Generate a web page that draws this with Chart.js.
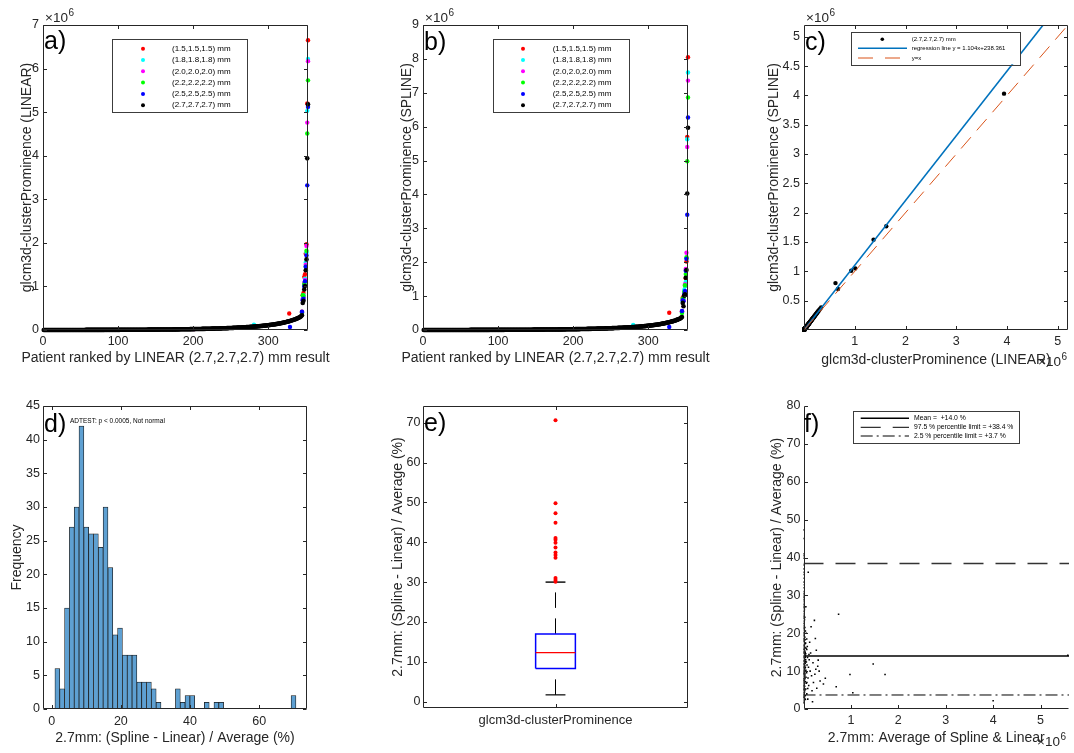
<!DOCTYPE html>
<html><head><meta charset="utf-8">
<script src="https://cdn.jsdelivr.net/npm/chart.js@4.4.1/dist/chart.umd.min.js"></script>
<style>
html,body{margin:0;padding:0;background:#fff;}
#wrap{position:relative;width:1074px;height:753px;overflow:hidden;background:#fff;}
#wrap canvas{position:absolute;left:0;top:0;}
</style></head>
<body><div id="wrap">
<canvas id="pa" width="1074" height="753"></canvas>
<canvas id="pb" width="1074" height="753"></canvas>
<canvas id="pc" width="1074" height="753"></canvas>
<canvas id="pd" width="1074" height="753"></canvas>
<canvas id="pe" width="1074" height="753"></canvas>
<canvas id="pf" width="1074" height="753"></canvas>
</div>
<script>
// ================= DATA (values in units of 10^6 where the axis shows x10^6) =================
const rankTicks = [0, 100, 200, 300];
const linearYTicks = [0, 1, 2, 3, 4, 5, 6, 7];
const splineYTicks = [0, 1, 2, 3, 4, 5, 6, 7, 8, 9];
const cXTicks = [1, 2, 3, 4, 5];
const cYTicks = [0.5, 1, 1.5, 2, 2.5, 3, 3.5, 4, 4.5, 5];
const histXTicks = [0, 20, 40, 60];
const histYTicks = [0, 5, 10, 15, 20, 25, 30, 35, 40, 45];
const boxYTicks = [0, 10, 20, 30, 40, 50, 60, 70];
const fXTicks = [1, 2, 3, 4, 5];
const fYTicks = [0, 10, 20, 30, 40, 50, 60, 70, 80];

const seriesLabels = ['(1.5,1.5,1.5) mm', '(1.8,1.8,1.8) mm', '(2.0,2.0,2.0) mm', '(2.2,2.2,2.2) mm', '(2.5,2.5,2.5) mm', '(2.7,2.7,2.7) mm'];
const seriesColors = ['#ff0000', '#00ffff', '#ff00ff', '#00ff00', '#0000ff', '#000000'];
const rankTitle = 'Patient ranked by LINEAR (2.7,2.7,2.7) mm result';

// LINEAR 2.7 mm, ranked (patient rank = index + 1)
const linear27 = [
0.0001,0.0002,0.0002,0.0003,0.0003,0.0003,0.0004,0.0004,0.0004,0.0005,
0.0005,0.0005,0.0005,0.0006,0.0006,0.0006,0.0006,0.0007,0.0007,0.0007,
0.0007,0.0008,0.0008,0.0008,0.0008,0.0009,0.0009,0.0009,0.0009,0.0010,
0.0010,0.0010,0.0010,0.0011,0.0011,0.0011,0.0011,0.0012,0.0012,0.0012,
0.0012,0.0013,0.0013,0.0013,0.0014,0.0014,0.0014,0.0015,0.0015,0.0015,
0.0016,0.0016,0.0016,0.0017,0.0017,0.0017,0.0018,0.0018,0.0018,0.0019,
0.0019,0.0020,0.0020,0.0020,0.0021,0.0021,0.0022,0.0022,0.0022,0.0023,
0.0023,0.0024,0.0024,0.0025,0.0025,0.0026,0.0026,0.0027,0.0027,0.0028,
0.0028,0.0029,0.0029,0.0030,0.0030,0.0031,0.0031,0.0032,0.0032,0.0033,
0.0033,0.0034,0.0035,0.0035,0.0036,0.0036,0.0037,0.0038,0.0038,0.0039,
0.0040,0.0040,0.0041,0.0042,0.0042,0.0043,0.0044,0.0045,0.0045,0.0046,
0.0047,0.0048,0.0048,0.0049,0.0050,0.0051,0.0052,0.0052,0.0053,0.0054,
0.0055,0.0056,0.0057,0.0058,0.0059,0.0060,0.0061,0.0062,0.0063,0.0064,
0.0065,0.0066,0.0067,0.0068,0.0069,0.0070,0.0072,0.0073,0.0074,0.0075,
0.0077,0.0078,0.0079,0.0081,0.0082,0.0083,0.0085,0.0086,0.0088,0.0089,
0.0091,0.0092,0.0094,0.0095,0.0097,0.0099,0.0100,0.0102,0.0104,0.0106,
0.0107,0.0109,0.0111,0.0113,0.0115,0.0117,0.0119,0.0121,0.0123,0.0125,
0.0127,0.0129,0.0131,0.0134,0.0136,0.0138,0.0140,0.0143,0.0145,0.0148,
0.0150,0.0153,0.0155,0.0158,0.0160,0.0163,0.0166,0.0168,0.0171,0.0174,
0.0177,0.0180,0.0183,0.0186,0.0189,0.0192,0.0195,0.0198,0.0202,0.0205,
0.0208,0.0212,0.0215,0.0219,0.0222,0.0226,0.0229,0.0233,0.0237,0.0241,
0.0245,0.0249,0.0253,0.0257,0.0261,0.0265,0.0270,0.0274,0.0279,0.0283,
0.0288,0.0292,0.0297,0.0302,0.0307,0.0312,0.0317,0.0322,0.0327,0.0333,
0.0338,0.0344,0.0349,0.0355,0.0361,0.0367,0.0373,0.0379,0.0385,0.0391,
0.0398,0.0404,0.0411,0.0418,0.0425,0.0432,0.0439,0.0446,0.0453,0.0461,
0.0468,0.0476,0.0484,0.0492,0.0500,0.0508,0.0517,0.0525,0.0534,0.0543,
0.0552,0.0561,0.0570,0.0580,0.0590,0.0600,0.0610,0.0620,0.0631,0.0641,
0.0652,0.0663,0.0675,0.0686,0.0698,0.0710,0.0722,0.0735,0.0748,0.0761,
0.0774,0.0788,0.0802,0.0816,0.0830,0.0845,0.0860,0.0876,0.0892,0.0908,
0.0925,0.0942,0.0960,0.0978,0.0997,0.1016,0.1036,0.1056,0.1077,0.1098,
0.1120,0.1142,0.1165,0.1189,0.1213,0.1238,0.1264,0.1290,0.1317,0.1345,
0.1374,0.1404,0.1434,0.1466,0.1498,0.1531,0.1566,0.1601,0.1638,0.1675,
0.1714,0.1754,0.1795,0.1837,0.1881,0.1926,0.1973,0.2021,0.2071,0.2122,
0.2175,0.2230,0.2287,0.2346,0.2408,0.2472,0.2539,0.2609,0.2683,0.2760,
0.2842,0.2930,0.3050,0.3200,0.3380,0.6200,0.6700,0.9300,1.0100,1.3700,
1.6200,3.9400,5.1800];

// SPLINE 2.7 mm, same patient order
const spline27 = [
0.0001,0.0002,0.0003,0.0003,0.0004,0.0003,0.0005,0.0004,0.0005,0.0006,
0.0006,0.0005,0.0006,0.0007,0.0007,0.0007,0.0006,0.0008,0.0008,0.0008,
0.0008,0.0009,0.0009,0.0010,0.0009,0.0010,0.0010,0.0011,0.0010,0.0011,
0.0012,0.0011,0.0012,0.0013,0.0012,0.0013,0.0012,0.0014,0.0013,0.0014,
0.0014,0.0015,0.0014,0.0015,0.0016,0.0016,0.0015,0.0017,0.0017,0.0016,
0.0018,0.0018,0.0019,0.0019,0.0019,0.0020,0.0020,0.0021,0.0020,0.0022,
0.0022,0.0022,0.0023,0.0023,0.0024,0.0024,0.0025,0.0025,0.0026,0.0026,
0.0027,0.0027,0.0028,0.0028,0.0029,0.0029,0.0030,0.0031,0.0031,0.0032,
0.0032,0.0033,0.0033,0.0034,0.0035,0.0035,0.0036,0.0036,0.0037,0.0038,
0.0038,0.0039,0.0040,0.0040,0.0041,0.0042,0.0042,0.0043,0.0044,0.0045,
0.0045,0.0046,0.0047,0.0048,0.0048,0.0049,0.0050,0.0051,0.0052,0.0053,
0.0054,0.0055,0.0055,0.0056,0.0057,0.0058,0.0059,0.0060,0.0061,0.0062,
0.0063,0.0064,0.0065,0.0066,0.0067,0.0069,0.0070,0.0071,0.0072,0.0073,
0.0074,0.0075,0.0077,0.0078,0.0079,0.0080,0.0082,0.0083,0.0085,0.0086,
0.0088,0.0089,0.0090,0.0092,0.0094,0.0095,0.0097,0.0098,0.0100,0.0102,
0.0104,0.0105,0.0107,0.0109,0.0111,0.0113,0.0114,0.0116,0.0119,0.0121,
0.0122,0.0124,0.0127,0.0129,0.0131,0.0133,0.0136,0.0138,0.0140,0.0143,
0.0145,0.0147,0.0150,0.0153,0.0155,0.0157,0.0160,0.0163,0.0165,0.0169,
0.0171,0.0174,0.0177,0.0180,0.0182,0.0186,0.0189,0.0192,0.0195,0.0198,
0.0202,0.0205,0.0209,0.0212,0.0215,0.0219,0.0222,0.0226,0.0230,0.0234,
0.0237,0.0242,0.0245,0.0250,0.0253,0.0258,0.0261,0.0266,0.0270,0.0275,
0.0279,0.0284,0.0288,0.0293,0.0298,0.0302,0.0308,0.0312,0.0318,0.0323,
0.0328,0.0333,0.0339,0.0344,0.0350,0.0356,0.0361,0.0367,0.0373,0.0380,
0.0385,0.0392,0.0398,0.0405,0.0412,0.0418,0.0425,0.0432,0.0439,0.0446,
0.0454,0.0461,0.0469,0.0477,0.0485,0.0492,0.0500,0.0508,0.0516,0.0526,
0.0534,0.0543,0.0552,0.0561,0.0570,0.0579,0.0589,0.0599,0.0609,0.0619,
0.0629,0.0640,0.0650,0.0661,0.0673,0.0684,0.0695,0.0707,0.0719,0.0731,
0.0743,0.0756,0.0770,0.0782,0.0796,0.0809,0.0823,0.0838,0.0853,0.0868,
0.0882,0.0898,0.0914,0.0930,0.0946,0.0963,0.0980,0.0999,0.1017,0.1035,
0.1055,0.1074,0.1094,0.1115,0.1137,0.1158,0.1181,0.1204,0.1228,0.1252,
0.1277,0.1302,0.1328,0.1355,0.1383,0.1411,0.1441,0.1471,0.1501,0.1533,
0.1566,0.1601,0.1635,0.1671,0.1708,0.1745,0.1785,0.1825,0.1867,0.1910,
0.1954,0.2000,0.2046,0.2094,0.2144,0.2196,0.2249,0.2304,0.2361,0.2419,
0.2480,0.2542,0.2607,0.2674,0.2745,0.2818,0.2894,0.2974,0.3059,0.3146,
0.3240,0.3340,0.3477,0.3648,0.3853,0.8000,0.7000,1.0100,1.0500,1.5400,
1.7700,4.0300,5.9700];

// other voxel sizes, where they are visible beside the 2.7 mm series (panel a, LINEAR)
const lin15Ranks = [328, 345, 346, 347, 348, 349, 350, 351, 352, 353];
const lin15 = [0.38, 0.42, 0.80, 0.85, 1.22, 1.28, 1.75, 1.97, 5.20, 6.65];
const lin18Ranks = [281, 345, 346, 347, 348, 349, 350, 351, 352, 353];
const lin18 = [0.12, 0.40, 0.72, 0.80, 1.05, 1.18, 1.55, 1.78, 5.03, 6.22];
const lin20Ranks = [201, 345, 346, 347, 348, 349, 350, 351, 352, 353];
const lin20 = [0.02, 0.40, 0.70, 0.75, 1.08, 1.15, 1.50, 1.93, 4.76, 6.17];
const lin22Ranks = [345, 346, 347, 348, 349, 350, 351, 352, 353];
const lin22 = [0.39, 0.80, 0.78, 1.05, 1.10, 1.45, 1.82, 4.51, 5.73];
const lin25Ranks = [329, 345, 346, 347, 348, 349, 350, 351, 352, 353];
const lin25 = [0.07, 0.42, 0.68, 0.72, 1.00, 1.12, 1.45, 1.71, 3.32, 5.12];
// panel b, SPLINE
const spl15Ranks = [328, 345, 346, 347, 348, 349, 350, 351, 352, 353];
const spl15 = [0.51, 0.55, 0.95, 0.98, 1.03, 1.30, 1.53, 2.02, 5.70, 8.05];
const spl18Ranks = [280, 345, 346, 347, 348, 349, 350, 351, 352, 353];
const spl18 = [0.15, 0.52, 0.85, 0.90, 1.18, 1.30, 1.42, 2.12, 5.63, 7.60];
const spl20Ranks = [345, 346, 347, 348, 349, 350, 351, 352, 353];
const spl20 = [0.55, 0.90, 0.88, 1.10, 1.35, 1.80, 2.28, 5.40, 7.36];
const spl22Ranks = [345, 346, 347, 348, 349, 350, 351, 352, 353];
const spl22 = [0.50, 0.92, 0.95, 1.12, 1.32, 1.65, 2.15, 4.98, 6.86];
const spl25Ranks = [328, 345, 346, 347, 348, 349, 350, 351, 352, 353];
const spl25 = [0.09, 0.56, 0.88, 0.85, 1.05, 1.15, 1.75, 2.10, 3.40, 6.27];

// panel c regression (raw units)
const regSlope = 1.104;
const regIntercept = 238.361;

// panel d histogram
const histCounts = [6,3,15,27,30,42,27,26,26,24, 30,21,11,12,8,8,8,4,4,4, 3,1,0,0,0,3,1,2,2,0, 0,1,0,1,1,0,0,0,0,0, 0,0,0,0,0,0,0,0,0,2];
const histBinStart = 0.95;
const histBinWidth = 1.393;
const adTestText = 'ADTEST: p < 0.0005, Not normal';

// panel e boxplot
const boxCategory = 'glcm3d-clusterProminence';
const boxQ1 = 8.3, boxMedian = 12.3, boxQ3 = 17.0, whiskerLow = 1.7, whiskerHigh = 30.0;
const boxOutliers = [70.6, 49.8, 47.3, 44.9, 41.1, 40.6, 39.9, 38.7, 37.4, 36.8, 36.1, 31.0, 30.5, 30.1];

// panel f Bland-Altman
const baMean = 14.0, baUpper = 38.4, baLower = 3.7;
const baAvg = [
0.001,0.002,0.003,0.004,0.005,0.006,0.007,0.008,0.009,0.010,
0.011,0.012,0.013,0.002,0.004,0.006,0.008,0.003,0.005,0.007,
0.009,0.012,0.014,0.016,0.018,0.020,0.022,0.003,0.006,0.009,
0.012,0.015,0.018,0.021,0.004,0.008,0.012,0.016,0.020,0.005,
0.010,0.015,0.020,0.006,0.012,0.018,0.007,0.014,0.004,0.010,
0.003,0.008,0.002,0.006,0.003,0.001,0.002,0.001,0.002,0.001,
0.001,0.025,0.030,0.028,0.035,0.026,0.032,0.024,0.030,0.040,
0.022,0.018,0.015,0.030,0.020,0.045,0.050,0.040,0.036,0.028,
0.012,0.10,0.16,0.25,0.23,0.31,0.30,0.46,0.26,0.28,
0.19,0.74,1.47,0.98,1.72,0.69,1.04,4.00,0.06,0.08,
0.12,0.14,0.17,0.21,0.11,0.07,0.09,0.15,0.20,0.24,
0.13,0.35,0.27,0.05,0.04,0.18,0.33,0.42,5.575,
0.004,0.011,0.017,0.003,0.019,0.025,0.001,0.015,0.021,0.013,
0.026,0.002,0.031,0.008,0.024,0.004,0.010,0.033,0.013,0.027,
0.001,0.019,0.007,0.025,0.011,0.002,0.023,0.010,0.004,0.017,
0.008,0.003,0.013,0.002,0.009,0.004,0.011,0.003,0.007,0.002,
0.005,0.003,0.001,0.004,0.009,0.016,0.002,0.014,0.006,0.029,
0.018,0.036,0.042,0.038,0.047,0.055,0.044,0.060,0.065,0.052,
0.058,0.048,0.035,0.027,0.010,0.034,0.040,0.028,0.020,0.015,
0.012,0.070,0.075,0.085,0.095,0.072,0.105,0.115,0.068,0.090];
const baPct = [
1.6,2.4,3.1,3.8,4.4,5.0,5.5,6.1,6.6,7.0,
7.4,7.9,8.3,8.7,9.1,9.5,9.9,10.3,10.8,11.2,
11.6,12.0,12.5,12.9,13.4,13.8,14.3,14.7,15.1,15.6,
16.0,16.5,17.0,17.5,18.0,18.6,19.2,19.8,20.5,21.2,
22.0,22.8,23.6,24.4,25.3,26.2,27.1,28.0,29.0,30.1,
30.5,31.0,33.5,36.1,37.0,38.0,39.8,40.5,41.0,45.0,
47.3,6.0,8.0,10.0,12.0,14.5,16.2,19.0,9.0,11.0,
4.5,3.0,2.0,5.0,7.5,13.0,10.2,7.2,15.0,21.5,
1.8,36.1,21.7,18.6,23.4,12.9,11.3,8.1,10.5,5.5,
1.9,25.0,11.9,9.1,9.1,5.9,4.3,2.2,20.0,16.5,
13.0,10.0,8.8,7.0,6.2,4.0,2.6,14.8,12.2,9.2,
17.6,7.4,15.5,27.0,2.5,4.8,10.0,6.6,14.2,
5.2,6.3,6.8,7.6,8.1,8.6,9.3,9.7,10.6,11.0,
11.4,11.9,12.3,12.7,13.1,13.6,14.0,14.1,14.9,15.3,
15.8,16.3,16.8,17.2,17.8,18.4,18.9,19.5,20.1,20.8,
21.6,22.5,23.2,24.0,24.8,25.8,26.7,27.6,28.5,29.5,
32.0,34.5,35.5,3.4,4.1,4.9,5.8,7.2,8.0,9.4,
10.1,10.9,12.6,13.7,14.6,16.0,17.4,12.4,9.6,8.4,
6.8,5.3,3.5,2.7,2.9,18.3,20.6,24.2,26.8,29.7,
32.8,15.7,11.6,13.6,8.2,7.0,11.0,14.4,18.5,5.4];

// ================= RENDERING =================
const W = 1074, H = 753;
const AX = '#262626';
const FONT = "'Liberation Sans', Arial, Helvetica, sans-serif";
const TICKF = { family: FONT, size: 12.5 };
const TITLEF = { family: FONT, size: 14 };
Chart.defaults.font.family = FONT;
Chart.defaults.color = AX;
Chart.defaults.animation = false;
Chart.defaults.events = [];

function axis(s, size) {
  return {
    type: 'linear', min: s.min, max: s.max, offset: false,
    grid: { display: false, drawTicks: false }, border: { display: false },
    afterBuildTicks: sc => { sc.ticks = s.ticks.map(v => ({ value: v })); },
    afterFit: sc => { if (sc.isHorizontal()) sc.height = size; else sc.width = size; },
    ticks: { color: AX, font: s.font || TICKF, padding: s.pad != null ? s.pad : 4, autoSkip: false,
             maxRotation: 0, minRotation: 0, callback: s.fmt || (v => String(v)) },
    title: s.title ? { display: true, text: s.title, color: AX, font: TITLEF, padding: { top: 4, bottom: 4 } } : { display: false }
  };
}

function framePlugin(box, tl) {
  return {
    id: 'frame',
    afterDatasetsDraw(chart) {
      const { ctx, chartArea: a } = chart;
      const xs = chart.scales.x, ys = chart.scales.y;
      const L = Math.round(a.left) + 0.5, R = Math.round(a.right) - 0.5;
      const T = Math.round(a.top) + 0.5, B = Math.round(a.bottom) - 0.5;
      ctx.save();
      ctx.strokeStyle = AX; ctx.lineWidth = 1;
      ctx.beginPath();
      if (box) { ctx.rect(L, T, R - L, B - T); }
      else { ctx.moveTo(L, T); ctx.lineTo(L, B); ctx.lineTo(R, B); }
      xs.ticks.forEach(t => {
        const p = Math.round(xs.getPixelForValue(t.value)) + 0.5;
        ctx.moveTo(p, B); ctx.lineTo(p, B - tl);
        if (box) { ctx.moveTo(p, T); ctx.lineTo(p, T + tl); }
      });
      ys.ticks.forEach(t => {
        const p = Math.round(ys.getPixelForValue(t.value)) + 0.5;
        ctx.moveTo(L, p); ctx.lineTo(L + tl, p);
        if (box) { ctx.moveTo(R, p); ctx.lineTo(R - tl, p); }
      });
      ctx.stroke();
      ctx.restore();
    }
  };
}

function letter(ctx, txt, x, y) {
  ctx.save(); ctx.font = '25px ' + FONT; ctx.fillStyle = '#000'; ctx.textBaseline = 'alphabetic'; ctx.textAlign = 'left';
  ctx.fillText(txt, x, y); ctx.restore();
}
function centeredTitle(ctx, txt, x, y) {
  ctx.save(); ctx.font = '14px ' + FONT; ctx.fillStyle = AX; ctx.textBaseline = 'middle'; ctx.textAlign = 'center';
  ctx.fillText(txt, x, y); ctx.restore();
}
function expo(ctx, x, y) {
  ctx.save(); ctx.fillStyle = AX; ctx.textBaseline = 'alphabetic'; ctx.textAlign = 'left';
  ctx.font = '13.5px ' + FONT; ctx.fillText('\u00d710', x, y);
  const w = ctx.measureText('\u00d710').width;
  ctx.font = '10px ' + FONT; ctx.fillText('6', x + w + 0.5, y - 6);
  ctx.restore();
}
function legendBox(ctx, l, t, r, b) {
  ctx.fillStyle = '#fff'; ctx.fillRect(l, t, r - l, b - t);
  ctx.strokeStyle = '#3c3c3c'; ctx.lineWidth = 1;
  ctx.strokeRect(Math.round(l) + 0.5, Math.round(t) + 0.5, Math.round(r - l), Math.round(b - t));
}
function markerLegend(ctx, l, t, r, b, mx, tx, y0, step) {
  ctx.save(); legendBox(ctx, l, t, r, b);
  ctx.font = '8px ' + FONT; ctx.textBaseline = 'middle'; ctx.textAlign = 'left';
  seriesLabels.forEach((lab, i) => {
    const y = y0 + i * step;
    ctx.fillStyle = seriesColors[i]; ctx.beginPath(); ctx.arc(mx, y, 2, 0, Math.PI * 2); ctx.fill();
    ctx.fillStyle = '#000'; ctx.fillText(lab, tx, y);
  });
  ctx.restore();
}
function sampleLine(ctx, x0, x1, y, color, width, dash) {
  ctx.save(); ctx.strokeStyle = color; ctx.lineWidth = width; ctx.setLineDash(dash || []);
  ctx.beginPath(); ctx.moveTo(x0, y); ctx.lineTo(x1, y); ctx.stroke(); ctx.restore();
}

function build(id, c) {
  return new Chart(document.getElementById(id), {
    type: c.type || 'scatter',
    data: { datasets: c.datasets },
    options: {
      responsive: false, maintainAspectRatio: false, devicePixelRatio: 1,
      layout: { padding: { left: c.area.l - c.yW, top: c.area.t, right: W - c.area.r, bottom: H - c.area.b - c.xH } },
      scales: { x: axis(c.x, c.xH), y: axis(c.y, c.yW) },
      plugins: { legend: { display: false }, tooltip: { enabled: false } }
    },
    plugins: [framePlugin(c.box, 3.5), { id: 'decor', afterDraw: ch => c.decor(ch.ctx, ch) }]
  });
}

function dots(pts, color, r, order) {
  return { data: pts, backgroundColor: color, borderColor: color, borderWidth: 0, pointRadius: r, pointStyle: 'circle', order: order, clip: false };
}
function line(pts, color, width, dash, order) {
  return { data: pts, showLine: true, borderColor: color, backgroundColor: color, borderWidth: width, borderDash: dash || [], pointRadius: 0, fill: false, tension: 0, order: order || 0 };
}
const rankPts = (ranks, vals) => vals.map((v, i) => ({ x: ranks[i], y: v }));
const fullPts = vals => vals.map((v, i) => ({ x: i + 1, y: v }));

// ---------- a) ----------
build('pa', {
  area: { l: 43, t: 25, r: 308, b: 330 }, yW: 28.4, xH: 40.4, box: true,
  x: { min: 0, max: 353, ticks: rankTicks },
  y: { min: 0, max: 7, ticks: linearYTicks, title: 'glcm3d-clusterProminence (LINEAR)' },
  datasets: [
    dots(rankPts(lin15Ranks, lin15), seriesColors[0], 2.2, 5),
    dots(rankPts(lin18Ranks, lin18), seriesColors[1], 2.2, 4),
    dots(rankPts(lin20Ranks, lin20), seriesColors[2], 2.2, 3),
    dots(rankPts(lin22Ranks, lin22), seriesColors[3], 2.2, 2),
    dots(rankPts(lin25Ranks, lin25), seriesColors[4], 2.2, 1),
    dots(fullPts(linear27), seriesColors[5], 2.3, 0)
  ],
  decor: (ctx) => { letter(ctx, 'a)', 44, 49); expo(ctx, 45, 22); centeredTitle(ctx, rankTitle, 175.5, 358);
    markerLegend(ctx, 111.7, 39.3, 246.7, 112.7, 143, 172, 48.7, 11.3); }
});

// ---------- b) ----------
build('pb', {
  area: { l: 423, t: 25, r: 688, b: 330 }, yW: 28.7, xH: 40.4, box: true,
  x: { min: 0, max: 353, ticks: rankTicks },
  y: { min: 0, max: 9, ticks: splineYTicks, title: 'glcm3d-clusterProminence (SPLINE)' },
  datasets: [
    dots(rankPts(spl15Ranks, spl15), seriesColors[0], 2.2, 5),
    dots(rankPts(spl18Ranks, spl18), seriesColors[1], 2.2, 4),
    dots(rankPts(spl20Ranks, spl20), seriesColors[2], 2.2, 3),
    dots(rankPts(spl22Ranks, spl22), seriesColors[3], 2.2, 2),
    dots(rankPts(spl25Ranks, spl25), seriesColors[4], 2.2, 1),
    dots(fullPts(spline27), seriesColors[5], 2.3, 0)
  ],
  decor: (ctx) => { letter(ctx, 'b)', 424, 49.5); expo(ctx, 425, 22); centeredTitle(ctx, rankTitle, 555.5, 358);
    markerLegend(ctx, 492.7, 39.3, 629, 112.7, 523, 552.7, 48.7, 11.3); }
});

// ---------- c) ----------
const cMax = 5.2;
const regLabel = 'regression line y = ' + regSlope + 'x+' + regIntercept;
build('pc', {
  area: { l: 804, t: 25, r: 1068, b: 330 }, yW: 42.4, xH: 42.4, box: true,
  x: { min: 0, max: cMax, ticks: cXTicks, title: 'glcm3d-clusterProminence (LINEAR)' },
  y: { min: 0, max: cMax, ticks: cYTicks, title: 'glcm3d-clusterProminence (SPLINE)' },
  datasets: [
    Object.assign(dots(linear27.map((v, i) => ({ x: v, y: spline27[i] })), '#000', 2.2, 2), { clip: 2 }),
    line([{ x: 0, y: regIntercept / 1e6 }, { x: cMax, y: regSlope * cMax + regIntercept / 1e6 }], 'rgb(0,114,189)', 1.6, [], 1),
    line([{ x: 0, y: 0 }, { x: cMax, y: cMax }], 'rgb(217,83,25)', 1, [15, 9], 0)
  ],
  decor: (ctx) => {
    letter(ctx, 'c)', 805, 50); expo(ctx, 806, 22); expo(ctx, 1038, 366);
    ctx.save(); legendBox(ctx, 851.3, 31.7, 1020.7, 64.3);
    ctx.fillStyle = '#000'; ctx.beginPath(); ctx.arc(882.3, 39.3, 1.8, 0, Math.PI * 2); ctx.fill();
    sampleLine(ctx, 858, 907, 48.3, 'rgb(0,114,189)', 1.5);
    sampleLine(ctx, 858, 907, 58, 'rgb(217,83,25)', 1, [15, 12]);
    ctx.font = '6px ' + FONT; ctx.fillStyle = '#000'; ctx.textBaseline = 'middle'; ctx.textAlign = 'left';
    ctx.fillText(seriesLabels[5], 911.7, 39.3); ctx.fillText(regLabel, 911.7, 48.3); ctx.fillText('y=x', 911.7, 58);
    ctx.restore();
  }
});

// ---------- d) ----------
build('pd', {
  type: 'bar',
  area: { l: 43, t: 406, r: 307, b: 709 }, yW: 38.7, xH: 41.4, box: true,
  x: { min: -2.5, max: 73.8, ticks: histXTicks, title: '2.7mm: (Spline - Linear) / Average (%)', pad: 5 },
  y: { min: 0, max: 45, ticks: histYTicks, title: 'Frequency', pad: 3 },
  datasets: [{
    data: histCounts.map((c, k) => ({ x: histBinStart + (k + 0.5) * histBinWidth, y: c })),
    backgroundColor: 'rgb(94,160,210)', borderColor: '#1a1a1a', borderWidth: 0.75, borderSkipped: false,
    barPercentage: 1, categoryPercentage: 1
  }],
  decor: (ctx) => {
    letter(ctx, 'd)', 44, 431.7);
    ctx.save(); ctx.font = '6.5px ' + FONT; ctx.fillStyle = '#000'; ctx.textBaseline = 'middle'; ctx.fillText(adTestText, 70, 421.7); ctx.restore();
  }
});

// ---------- e) ----------
const boxHalf = 0.075, capHalf = 0.0375;
build('pe', {
  area: { l: 423, t: 406, r: 688, b: 708 }, yW: 37.7, xH: 30, box: true,
  x: { min: 0.5, max: 1.5, ticks: [1], fmt: () => boxCategory, font: { family: FONT, size: 13 }, pad: 4.6 },
  y: { min: -1.6, max: 74.2, ticks: boxYTicks, title: '2.7mm: (Spline - Linear) / Average (%)', pad: 2.5 },
  datasets: [
    line([{ x: 1, y: boxQ3 }, { x: 1, y: whiskerHigh }], '#000', 1, [15.5, 10.5], 3),
    line([{ x: 1, y: whiskerLow }, { x: 1, y: boxQ1 }], '#000', 1, [15.5, 10.5], 3),
    line([{ x: 1 - capHalf, y: whiskerHigh }, { x: 1 + capHalf, y: whiskerHigh }], '#000', 1.4, [], 2),
    line([{ x: 1 - capHalf, y: whiskerLow }, { x: 1 + capHalf, y: whiskerLow }], '#000', 1.2, [], 2),
    line([{ x: 1 - boxHalf, y: boxQ1 }, { x: 1 + boxHalf, y: boxQ1 }, { x: 1 + boxHalf, y: boxQ3 }, { x: 1 - boxHalf, y: boxQ3 }, { x: 1 - boxHalf, y: boxQ1 }], '#0000ff', 1.5, [], 1),
    line([{ x: 1 - boxHalf, y: boxMedian }, { x: 1 + boxHalf, y: boxMedian }], '#ff0000', 1.2, [], 0),
    dots(boxOutliers.map(v => ({ x: 1, y: v })), '#ff0000', 2, 0)
  ],
  decor: (ctx) => { letter(ctx, 'e)', 424, 431); }
});

// ---------- f) ----------
const fMax = 5.6;
build('pf', {
  area: { l: 803.5, t: 406, r: 1069, b: 709 }, yW: 38.9, xH: 41.4, box: false,
  x: { min: 0, max: fMax, ticks: fXTicks, title: '2.7mm: Average of Spline & Linear' },
  y: { min: 0, max: 80, ticks: fYTicks, title: '2.7mm: (Spline - Linear) / Average (%)', pad: 3 },
  datasets: [
    { data: baAvg.map((v, i) => ({ x: v, y: baPct[i] })), backgroundColor: '#000', borderWidth: 0, pointRadius: 1.1, pointStyle: 'rect', order: 1 },
    line([{ x: 0, y: baMean }, { x: fMax, y: baMean }], '#000', 1.5, [], 0),
    line([{ x: 0, y: baUpper }, { x: fMax, y: baUpper }], '#333', 1.4, [20, 12], 0),
    line([{ x: 0, y: baLower }, { x: fMax, y: baLower }], '#000', 1, [12, 4, 2, 4], 0)
  ],
  decor: (ctx) => {
    letter(ctx, 'f)', 804, 431.7); expo(ctx, 1037, 746);
    ctx.save(); legendBox(ctx, 853.3, 411, 1019.7, 443.3);
    sampleLine(ctx, 860.7, 909, 418.3, '#000', 1.5);
    sampleLine(ctx, 860.7, 909, 427.3, '#333', 1.3, [20, 12]);
    sampleLine(ctx, 860.7, 909, 436, '#000', 1, [12, 4, 2, 4]);
    ctx.font = '6.8px ' + FONT; ctx.fillStyle = '#000'; ctx.textBaseline = 'middle'; ctx.textAlign = 'left';
    ctx.fillText('Mean =  +' + baMean.toFixed(1) + ' %', 914, 418.3);
    ctx.fillText('97.5 % percentile limit = +' + baUpper.toFixed(1) + ' %', 914, 427.3);
    ctx.fillText('2.5 % percentile limit = +' + baLower.toFixed(1) + ' %', 914, 436);
    ctx.restore();
  }
});
</script>
</body></html>
